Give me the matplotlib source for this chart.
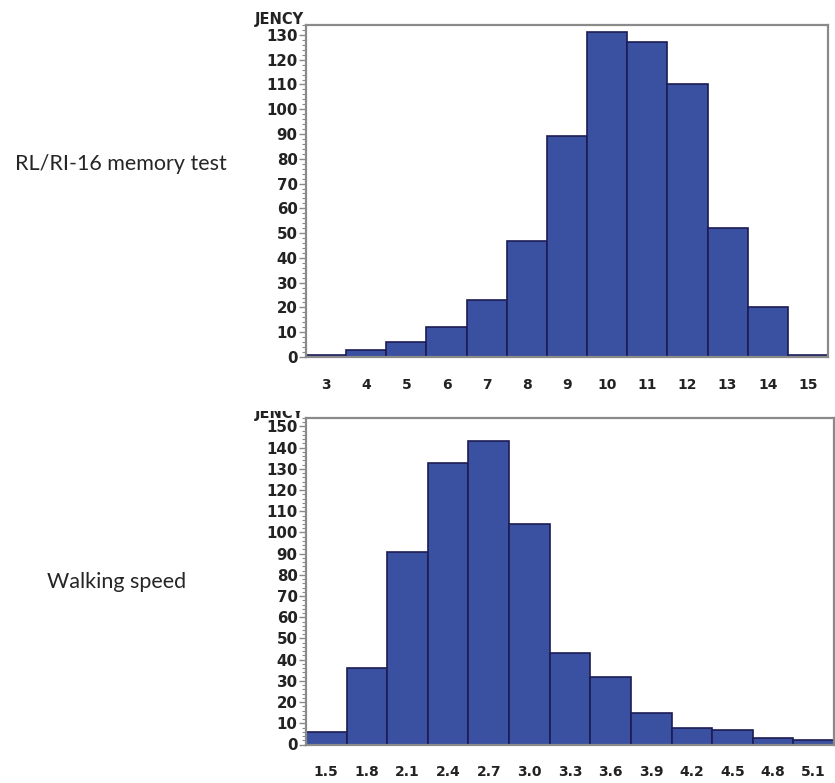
import matplotlib
matplotlib.use("Agg")
import matplotlib.pyplot as plt
from matplotlib.ticker import MultipleLocator
from matplotlib.transforms import Bbox

# ---- data ----
memory_scores = [3, 4, 5, 6, 7, 8, 9, 10, 11, 12, 13, 14, 15]
memory_counts = [1, 3, 6, 12, 23, 47, 89, 131, 127, 110, 52, 20, 1]

speed_bins = [1.5, 1.8, 2.1, 2.4, 2.7, 3.0, 3.3, 3.6, 3.9, 4.2, 4.5, 4.8, 5.1]
speed_labels = ["1.5", "1.8", "2.1", "2.4", "2.7", "3.0", "3.3", "3.6", "3.9",
                "4.2", "4.5", "4.8", "5.1"]
speed_counts = [6, 36, 91, 133, 143, 104, 43, 32, 15, 8, 7, 3, 2]

row_titles = ["RL/RI-16 memory test", "Walking speed"]
ylab = "JENCY"

W, H = 835, 783
fig = plt.figure(figsize=(W / 100, H / 100), dpi=100)

bar_color = "#3a50a0"
edge_color = "#1c1c55"
spine_color = "#8a8a8a"


def px_axes(l, t, r, b):
    return fig.add_axes([l / W, 1 - b / H, (r - l) / W, (b - t) / H])


def style(ax, ytop, major, xpad):
    for s in ax.spines.values():
        s.set_color(spine_color)
        s.set_linewidth(1.6)
    ax.set_ylim(0, ytop)
    ax.yaxis.set_major_locator(MultipleLocator(major))
    ax.yaxis.set_minor_locator(MultipleLocator(2))
    ax.tick_params(axis="y", which="major", length=5, width=1.0, color=spine_color,
                   labelsize=10.8, pad=1)
    ax.tick_params(axis="y", which="minor", length=3, width=0.8, color=spine_color)
    ax.tick_params(axis="x", which="both", length=0, labelsize=10, pad=xpad)
    for lab in ax.get_yticklabels() + ax.get_xticklabels():
        lab.set_fontweight("bold")
        lab.set_color("#222222")


# top chart
ax1 = px_axes(306, 25, 828, 357)
ax1.bar(memory_scores, memory_counts, width=1.0, color=bar_color,
        edgecolor=edge_color, linewidth=1.2)
ax1.set_xlim(memory_scores[0] - 0.5, memory_scores[-1] + 0.5)
ax1.set_xticks(memory_scores)
ax1.set_xticklabels([str(v) for v in memory_scores])
style(ax1, 134, 10, 15)

# bottom chart
ax2 = px_axes(306, 418, 834, 744.5)
ax2.bar(speed_bins, speed_counts, width=0.3, color=bar_color,
        edgecolor=edge_color, linewidth=1.2)
ax2.set_xlim(speed_bins[0] - 0.15, speed_bins[-1] + 0.15)
ax2.set_xticks(speed_bins)
ax2.set_xticklabels(speed_labels)
style(ax2, 154, 10, 15)

# truncated axis titles
fig.text(304 / W, 1 - 24 / H, ylab, ha="right", va="baseline", fontsize=10.5,
         fontweight="bold", color="#222222")
t2 = fig.text(304 / W, 1 - 418 / H, ylab, ha="right", va="baseline", fontsize=10.5,
              fontweight="bold", color="#222222")
t2.set_clip_box(Bbox([[0, 0], [W, H - 411]]))
t2.set_clip_on(True)

# row titles
fig.text(121 / W, 1 - 164 / H, row_titles[0], ha="center", va="center",
         fontsize=15.5, family="Lato", color="#262626")
fig.text(117 / W, 1 - 582 / H, row_titles[1], ha="center", va="center",
         fontsize=15.5, family="Lato", color="#262626")

fig.savefig("out.png", dpi=100)
